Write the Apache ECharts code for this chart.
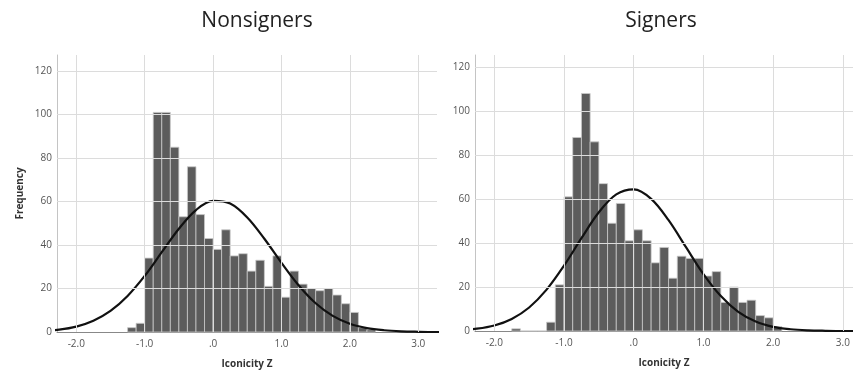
<!DOCTYPE html>
<html><head><meta charset="utf-8">
<script src="https://cdn.jsdelivr.net/npm/echarts@6/dist/echarts.min.js"></script>
<style>html,body{margin:0;padding:0;background:#fff}#c{width:853px;height:376px}</style>
</head><body><div id="c"></div>
<script>
// ---- data ----
const binWidth = 0.125;
const nonsignersBinStart = -1.25;
const nonsignersCounts = [2,4,34,101,101,85,53,76,54,43,38,47,35,36,28,33,21,35,16,28,22,20,19,20,17,13,9,2,1];
const signersBinStart = -1.75;
const signersCounts = [1,0,0,0,4,21,61,88,108,86,67,49,58,41,46,41,31,38,24,34,33,33,25,27,13,20,13,14,7,6,2];
const curveX = [-2.5,-2.25,-2,-1.75,-1.5,-1.25,-1,-0.75,-0.5,-0.25,0,0.25,0.5,0.75,1,1.25,1.5,1.75,2,2.25,2.5,2.75,3,3.25,3.5];
const nonsignersCurve = [0.5,1.1,2.5,5.2,9.7,16.6,25.8,36.7,47.5,56.1,60.3,59.1,52.7,42.9,31.8,21.5,13.2,7.4,3.8,1.8,0.8,0.3,0.1,0.0,0.0];
const signersCurve = [0.4,1.05,2.5,5.5,10.7,18.8,29.7,42.2,54.0,62.1,64.4,60.1,50.4,38.1,25.9,15.9,8.7,4.3,1.9,0.8,0.3,0.1,0.0,0.0,0.0];
const titles = ['Nonsigners','Signers'];
const xName = 'Iconicity Z';
const yName = 'Frequency';
const yTicks = [0,20,40,60,80,100,120];
const xTicks = [-2,-1,0,1,2,3];

function bins(start, counts){
  return counts.map((c,i)=>[start+i*binWidth, start+(i+1)*binWidth, c]);
}
function curve(vals){ return curveX.map((x,i)=>[x, vals[i]]); }

const chart = echarts.init(document.getElementById('c'), null, {renderer:'canvas'});
const labelFont = {color:'#555', fontSize:10, fontFamily:'Open Sans'};
function xAxis(idx, min, max){
  return {type:'value', gridIndex:idx, min:min, max:max, splitNumber:5,
    name:xName, nameLocation:'middle', nameGap:27,
    nameTextStyle:{fontFamily:'Open Sans', fontWeight:'bold', fontSize:10, color:'#333'},
    axisLine:{show:true, onZero:false, lineStyle:{color:'#888', width:1}},
    axisTick:{show:false},
    axisLabel:Object.assign({margin:7, showMinLabel:false, showMaxLabel:false,
      formatter:v=>{ if(xTicks.indexOf(v)<0) return ''; return v===0?'.0':v.toFixed(1);} }, labelFont),
    splitLine:{show:false}};
}
function yAxis(idx, max, showName){
  return {type:'value', gridIndex:idx, min:0, max:max, interval:20,
    name: showName? yName : '', nameLocation:'middle', nameGap:32,
    nameTextStyle:{fontFamily:'Open Sans', fontWeight:'bold', fontSize:10, color:'#333'},
    axisLine:{show:true, onZero:false, lineStyle:{color:'#c4c4c4', width:1}},
    axisTick:{show:false},
    axisLabel:Object.assign({margin:5, showMaxLabel:false,
      formatter:v=> yTicks.indexOf(v)>=0 ? String(v) : ''}, labelFont),
    splitLine:{show:false}};
}
function gridSeries(idx){
  const lines = yTicks.filter(v=>v>0).map(v=>({yAxis:v})).concat(xTicks.map(v=>({xAxis:v})));
  return {type:'line', xAxisIndex:idx, yAxisIndex:idx, data:[], silent:true, z:1,
    markLine:{silent:true, symbol:'none', animation:false, label:{show:false},
      lineStyle:{color:'#dcdcdc', width:1, type:'solid'}, emphasis:{disabled:true}, data:lines}};
}
function histSeries(idx, data){
  return {type:'custom', xAxisIndex:idx, yAxisIndex:idx, data:data, encode:{x:[0,1], y:2},
    renderItem:(params, api)=>{
      const p0 = api.coord([api.value(0), api.value(2)]);
      const p1 = api.coord([api.value(1), 0]);
      return {type:'rect', shape:{x:p0[0], y:p0[1], width:p1[0]-p0[0], height:p1[1]-p0[1]},
        style:{fill:'#5c5c5c', stroke:'#c9c9c9', lineWidth:0.8}};
    }, z:2};
}
function lineSeries(idx, data){
  return {type:'line', xAxisIndex:idx, yAxisIndex:idx, data:data, smooth:0.35, symbol:'none', clip:true,
    lineStyle:{color:'#111', width:2.2}, z:3};
}
chart.setOption({
  animation:false,
  title:[
    {text:titles[0], left:252, top:6, textAlign:'center', textStyle:{fontFamily:'Open Sans', fontWeight:'normal', fontSize:21, color:'#222'}},
    {text:titles[1], left:656, top:6, textAlign:'center', textStyle:{fontFamily:'Open Sans', fontWeight:'normal', fontSize:21, color:'#222'}}
  ],
  grid:[
    {left:57, top:55, width:380, height:277},
    {left:475, top:55, width:378, height:276}
  ],
  xAxis:[xAxis(0, -2.282, 3.274), xAxis(1, -2.277, 3.146)],
  yAxis:[yAxis(0, 127.4, true), yAxis(1, 125.5, false)],
  series:[
    gridSeries(0),
    histSeries(0, bins(nonsignersBinStart, nonsignersCounts)),
    lineSeries(0, curve(nonsignersCurve)),
    gridSeries(1),
    histSeries(1, bins(signersBinStart, signersCounts)),
    lineSeries(1, curve(signersCurve))
  ]
});
</script></body></html>
